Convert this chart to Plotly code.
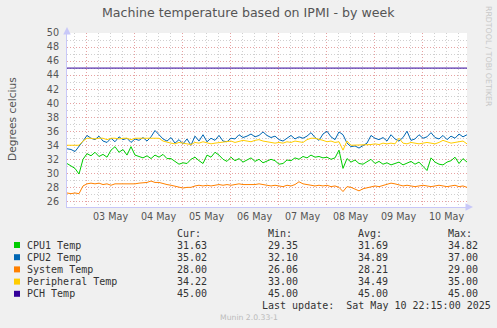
import pandas as pd
import plotly.graph_objects as go

# ---------------- data ----------------
start = "2025-05-02 14:15"
end = "2025-05-10 22:15"
times = pd.date_range(start=start, end=end, freq="2h")

cpu1_temp = [
    31.4, 31.0, 30.7, 29.9, 32.0, 32.8, 32.5, 33.0, 32.4, 32.7, 32.3, 33.3, 33.8,
    33.0, 33.4, 32.6, 33.8, 32.6, 32.4, 32.2, 32.5, 32.1, 32.6, 32.3, 32.7, 32.1,
    32.1, 31.7, 31.3, 31.5, 31.4, 32.0, 32.3, 31.8, 31.4, 32.6, 32.3, 33.0, 32.6,
    32.0, 31.7, 32.3, 31.8, 32.1, 31.6, 31.9, 32.2, 31.7, 32.0, 31.5, 31.7,
    32.0, 31.8, 31.3, 31.4, 31.9, 31.8, 32.2, 32.0, 32.4, 32.2, 32.6, 32.3, 32.4,
    32.2, 32.3, 32.0, 32.2, 33.3, 30.7, 32.1, 31.6, 31.9, 31.4, 31.3, 31.6,
    32.0, 31.4, 31.7, 31.3, 31.5, 31.2, 31.4, 31.6, 31.2, 31.5, 31.7, 31.3, 31.6,
    31.0, 30.4, 32.2, 31.6, 31.3, 31.2, 31.6, 31.8, 32.3, 31.4, 32.1, 31.6,
]
cpu2_temp = [
    33.5, 33.4, 33.1, 33.8, 34.6, 35.4, 35.0, 34.8, 35.3, 34.6, 34.4, 35.0, 34.5,
    35.2, 34.8, 35.0, 34.4, 34.9, 34.7, 35.1, 34.6, 35.2, 36.1, 35.5, 34.9, 34.6,
    35.1, 34.3, 34.8, 34.2, 34.9, 34.0, 35.3, 34.6, 35.5, 34.5, 35.0, 34.7, 35.4,
    34.6, 34.5, 35.0, 34.9, 35.5, 35.1, 35.3, 35.6, 35.2, 35.4, 35.9, 35.4,
    35.1, 35.3, 34.8, 34.6, 35.0, 35.4, 34.9, 35.2, 35.0, 35.3, 35.8, 35.1, 34.7,
    35.6, 36.0, 35.2, 34.8, 35.9, 35.5, 34.3, 33.8, 33.9, 33.6, 34.0, 34.3,
    35.4, 35.0, 34.8, 35.1, 34.6, 35.5, 34.9, 34.6, 35.1, 36.0, 34.7, 34.9, 35.5,
    35.0, 35.2, 35.8, 35.1, 34.9, 35.4, 34.8, 35.3, 35.0, 35.6, 35.2, 35.5,
]
system_temp = [
    27.2, 27.1, 27.2, 27.1, 28.2, 28.5, 28.6, 28.5, 28.6, 28.4, 28.5, 28.3, 28.5,
    28.5, 28.4, 28.4, 28.4, 28.5, 28.6, 28.6, 28.7, 28.9, 28.7, 28.7, 28.5, 28.4,
    28.3, 28.2, 28.0, 27.9, 28.0, 28.0, 28.2, 28.3, 28.2, 28.3, 28.2, 28.3, 28.4,
    28.3, 28.4, 28.3, 28.4, 28.5, 28.4, 28.4, 28.3, 28.4, 28.5, 28.4, 28.3,
    28.2, 28.3, 28.2, 28.1, 28.3, 28.2, 28.4, 28.8, 28.5, 28.4, 28.3, 28.2, 28.3,
    28.2, 28.3, 28.1, 28.2, 28.0, 27.4, 28.1, 28.0, 27.8, 27.5, 27.8, 27.9,
    28.0, 28.2, 28.1, 28.3, 28.4, 28.6, 28.5, 28.3, 28.2, 28.3, 28.2, 28.1, 28.2,
    28.3, 28.2, 28.1, 28.2, 28.3, 28.2, 28.1, 28.2, 28.3, 28.1, 28.2, 28.0,
]
peripheral_temp = [
    34.0, 34.0, 34.0, 34.0, 34.6, 35.0, 35.0, 34.9, 35.0, 35.0, 34.8, 35.0, 35.0,
    34.9, 35.0, 35.0, 34.8, 35.0, 35.0, 35.0, 34.9, 35.0, 35.0, 35.0, 34.6, 34.4,
    34.3, 34.2, 34.4, 34.3, 34.2, 34.1, 34.4, 34.3, 34.5, 34.3, 34.2, 34.3, 34.4,
    34.5, 34.5, 34.6, 34.4, 34.6, 34.7, 34.6, 34.5, 34.7, 34.8, 34.6, 34.5,
    34.4, 34.3, 34.4, 34.3, 34.5, 34.4, 34.6, 34.5, 34.4, 34.8, 35.0, 35.0, 34.9,
    34.7, 34.5, 34.6, 34.4, 34.5, 33.3, 34.6, 34.0, 34.0, 34.0, 34.0, 34.0,
    34.1, 34.2, 34.1, 34.3, 34.2, 34.3, 34.2, 35.0, 34.3, 34.2, 34.4, 34.3, 34.2,
    34.3, 34.4, 34.3, 34.2, 34.4, 34.7, 34.5, 34.3, 34.4, 34.5, 34.6, 34.2,
]
pch_times = [start, end]
pch_temp = [45.0, 45.0]

series_names = ["CPU1 Temp", "CPU2 Temp", "System Temp", "Peripheral Temp", "PCH Temp"]
series_colors = ["#00CC00", "#0066B3", "#FF8000", "#FFCC00", "#330099"]
stat_cur = ["31.63", "35.02", "28.00", "34.22", "45.00"]
stat_min = ["29.35", "32.10", "26.06", "33.00", "45.00"]
stat_avg = ["31.69", "34.89", "28.21", "34.49", "45.00"]
stat_max = ["34.82", "37.00", "29.00", "35.00", "45.00"]

day_labels = ["03 May", "04 May", "05 May", "06 May", "07 May", "08 May", "09 May", "10 May"]
day_noons = ["2025-05-%02d 12:00" % d for d in range(3, 11)]
day_midnights = ["2025-05-%02d 00:00" % d for d in range(3, 11)]
y_ticks = list(range(26, 51, 2))

# ---------------- figure ----------------
PL, PR, PT, PB = 67, 467, 33, 207
W, H = PR - PL, PB - PT


def px(x):
    return (x - PL) / W


def py(y):
    return (PB - y) / H


fig = go.Figure()
all_y = [cpu1_temp, cpu2_temp, system_temp, peripheral_temp]
for name, col, ys in zip(series_names[:4], series_colors[:4], all_y):
    fig.add_trace(go.Scatter(x=times, y=ys, mode="lines", name=name,
                             line=dict(color=col, width=1)))
fig.add_trace(go.Scatter(x=pch_times, y=pch_temp, mode="lines", name=series_names[4],
                         line=dict(color=series_colors[4], width=1)))

axis_font = dict(family="DejaVu Sans", size=9.6, color="#555555")
grid_major = "rgba(235,150,150,0.8)"
grid_minor = "rgba(200,200,200,0.85)"
fine_dash = "1px,2px"

fig.update_layout(
    width=497, height=328,
    margin=dict(l=PL, r=497 - PR, t=PT, b=328 - PB),
    paper_bgcolor="#F0F0F0", plot_bgcolor="#FFFFFF",
    showlegend=False,
    font=dict(family="DejaVu Sans", color="#555555"),
    xaxis=dict(
        type="date", range=[start, end],
        tickvals=day_midnights, showticklabels=False, ticks="",
        showgrid=True, gridcolor=grid_major, griddash=fine_dash, gridwidth=1,
        minor=dict(dtick=6 * 3600 * 1000, tick0="2025-05-03", showgrid=True,
                   gridcolor=grid_minor, griddash=fine_dash, gridwidth=1),
        showline=True, linecolor="#C8C8F8", linewidth=1,
        zeroline=False, fixedrange=True,
    ),
    yaxis=dict(
        range=[25.2, 50], tickvals=y_ticks, ticktext=[str(v) for v in y_ticks],
        tickfont=axis_font, ticks="", ticklabelstandoff=5,
        showgrid=True, gridcolor=grid_major, griddash=fine_dash, gridwidth=1,
        minor=dict(dtick=1, tick0=25, showgrid=True,
                   gridcolor=grid_minor, griddash=fine_dash, gridwidth=1),
        showline=True, linecolor="#C8C8F8", linewidth=1,
        zeroline=False, fixedrange=True,
    ),
)

ann = []
# day labels under the x axis
for lab, t in zip(day_labels, day_noons):
    ann.append(dict(x=t, xref="x", y=0, yref="paper", yanchor="top", yshift=-2,
                    text=lab, showarrow=False, font=axis_font))
# title
ann.append(dict(x=px(248), y=py(13), xref="paper", yref="paper", xanchor="center",
                yanchor="middle", text="Machine temperature based on IPMI - by week",
                showarrow=False, font=dict(family="DejaVu Sans", size=12.6, color="#555555")))
# y axis title
ann.append(dict(x=px(12), y=py(119), xref="paper", yref="paper", xanchor="center",
                yanchor="middle", text="Degrees celcius", textangle=-90,
                showarrow=False, font=dict(family="DejaVu Sans", size=10.6, color="#555555")))
# rrdtool credit
ann.append(dict(x=px(489), y=py(56), xref="paper", yref="paper", xanchor="center",
                yanchor="middle", text="RRDTOOL / TOBI OETIKER", textangle=90,
                showarrow=False, font=dict(family="DejaVu Sans", size=7.8, color="#C8C8C8")))
# axis arrows
ann.append(dict(x=px(67), y=py(27), xref="paper", yref="paper", ax=0, ay=8, text="",
                showarrow=True, arrowhead=2, arrowsize=1, arrowwidth=1.5, arrowcolor="#C8C8F8"))
ann.append(dict(x=px(473), y=py(207), xref="paper", yref="paper", ax=-8, ay=0, text="",
                showarrow=True, arrowhead=2, arrowsize=1, arrowwidth=1.5, arrowcolor="#C8C8F8"))

mono = dict(family="DejaVu Sans Mono", size=10, color="#333333")
col_x = [175, 266, 356, 446]
headers = ["Cur:", "Min:", "Avg:", "Max:"]
for cx, hd in zip(col_x, headers):
    ann.append(dict(x=px(cx), y=py(233.5), xref="paper", yref="paper", xanchor="left",
                    yanchor="middle", text=hd, showarrow=False, font=mono))
row_y = [245, 257.2, 269.4, 281.6, 293.8]
shapes = []
for i, (name, col) in enumerate(zip(series_names, series_colors)):
    ry = row_y[i]
    shapes.append(dict(type="rect", xref="paper", yref="paper",
                       x0=px(14), x1=px(20), y0=py(ry + 3), y1=py(ry - 3),
                       fillcolor=col, line=dict(width=0)))
    ann.append(dict(x=px(25), y=py(ry), xref="paper", yref="paper", xanchor="left",
                    yanchor="middle", text=name, showarrow=False, font=mono))
    for cx, vals in zip(col_x, [stat_cur, stat_min, stat_avg, stat_max]):
        ann.append(dict(x=px(cx), y=py(ry), xref="paper", yref="paper", xanchor="left",
                        yanchor="middle", text=vals[i], showarrow=False, font=mono))
ann.append(dict(x=px(260), y=py(305.8), xref="paper", yref="paper", xanchor="left",
                yanchor="middle", text="Last update:  Sat May 10 22:15:00 2025",
                showarrow=False, font=mono))
ann.append(dict(x=px(248.5), y=py(317.5), xref="paper", yref="paper", xanchor="center",
                yanchor="middle", text="Munin 2.0.33-1", showarrow=False,
                font=dict(family="DejaVu Sans", size=7.7, color="#BBBBBB")))

fig.update_layout(annotations=ann, shapes=shapes)
fig.write_html("out.html")
